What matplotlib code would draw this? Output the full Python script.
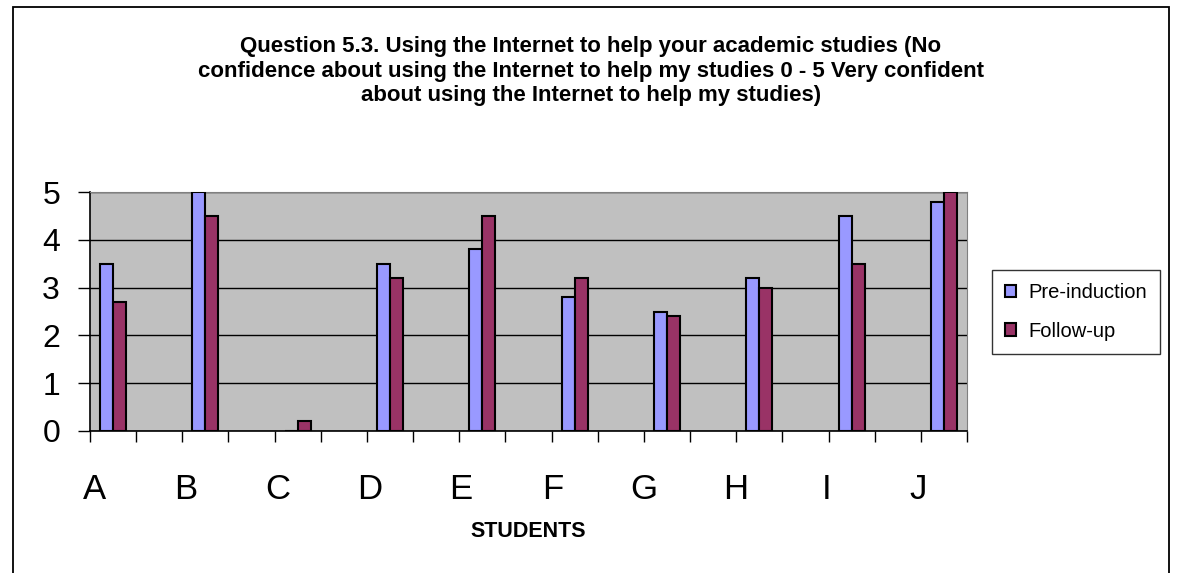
import matplotlib
matplotlib.use("Agg")
import matplotlib.pyplot as plt
from matplotlib.patches import Rectangle
import numpy as np

plt.rcParams['font.family'] = ['Liberation Sans', 'DejaVu Sans']

students = ['A', 'B', 'C', 'D', 'E', 'F', 'G', 'H', 'I', 'J']
pre_induction = [3.5, 5.0, 0.0, 3.5, 3.8, 2.8, 2.5, 3.2, 4.5, 4.8]
follow_up = [2.7, 4.5, 0.2, 3.2, 4.5, 3.2, 2.4, 3.0, 3.5, 5.0]
y_ticks = [0, 1, 2, 3, 4, 5]

title = ("Question 5.3. Using the Internet to help your academic studies (No\n"
         "confidence about using the Internet to help my studies 0 - 5 Very confident\n"
         "about using the Internet to help my studies)")

W, H = 1177, 573
fig = plt.figure(figsize=(W / 100, H / 100), dpi=100)
fig.patch.set_facecolor('white')

# chart frame (open at the bottom)
fig.add_artist(Rectangle((13 / W, -0.1), (1169 - 13) / W, 1.1 - 7 / H,
                         transform=fig.transFigure, fill=False,
                         edgecolor='black', linewidth=1.3))

ax = fig.add_axes([90 / W, 1 - 431 / H, (967 - 90) / W, (431 - 192) / H])
ax.set_facecolor('#C0C0C0')

# every student gets a slot, with an empty slot in between
n_slots = 2 * len(students) - 1
centers = 2 * np.arange(len(students)) + 0.5
bw = 0.28
ax.bar(centers - bw / 2, pre_induction, bw, color='#9999FF',
       edgecolor='black', linewidth=1.5, label='Pre-induction', zorder=3)
ax.bar(centers + bw / 2, follow_up, bw, color='#993366',
       edgecolor='black', linewidth=1.5, label='Follow-up', zorder=3)

ax.set_xlim(0, n_slots)
ax.set_ylim(0, 5)
ax.set_yticks(y_ticks)
ax.set_yticklabels([str(v) for v in y_ticks], fontsize=23)
ax.tick_params(axis='y', direction='out', length=8.6, width=1, pad=13)
ax.yaxis.grid(True, color='black', linewidth=1, zorder=1)

ax.xaxis.remove_overlapping_locs = False
ax.set_xticks(np.arange(n_slots + 1))
ax.set_xticklabels([])
ax.tick_params(axis='x', which='major', direction='out', length=8, width=1)
ax.set_xticks(np.linspace(0.1, 17.95, len(students)), minor=True)
ax.set_xticklabels(students, minor=True, fontsize=25)
ax.tick_params(axis='x', which='minor', length=0, pad=30)

for side in ['top', 'right']:
    ax.spines[side].set_color('#808080')
for side in ['left', 'bottom']:
    ax.spines[side].set_color('black')
    ax.spines[side].set_linewidth(1.2)

ax.set_xlabel('STUDENTS', fontsize=15.5, fontweight='bold', labelpad=11)

fig.text(591 / W, 1 - 71 / H, title, ha='center', va='center',
         fontsize=16, fontweight='bold', linespacing=1.2)

leg = ax.legend(loc='center left', bbox_to_anchor=(992 / W, 1 - 312 / H),
                bbox_transform=fig.transFigure, fontsize=14.5, frameon=True,
                fancybox=False, edgecolor='black', handlelength=0.55,
                handleheight=0.55, handletextpad=0.6, labelspacing=0.95,
                borderpad=0.65, borderaxespad=0)
leg.get_frame().set_linewidth(1.0)

fig.savefig('out.png', dpi=100)
